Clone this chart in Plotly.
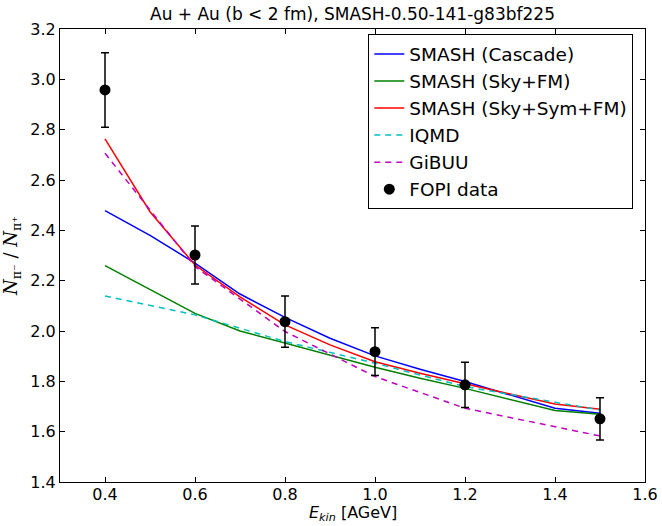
import plotly.graph_objects as go

# SMASH energies
e_smash = [0.4, 0.5, 0.6, 0.7, 0.8, 0.9, 1.0, 1.1, 1.2, 1.4, 1.5]
cascade = [2.478, 2.38, 2.270, 2.147, 2.054, 1.971, 1.901, 1.848, 1.799, 1.693, 1.673]
sky_fm = [2.260, 2.165, 2.070, 2.000, 1.951, 1.905, 1.856, 1.812, 1.772, 1.684, 1.669]
sky_sym_fm = [2.763, 2.474, 2.262, 2.136, 2.024, 1.945, 1.878, 1.832, 1.790, 1.710, 1.689]

# other models
e_models = [0.4, 0.6, 0.8, 1.0, 1.2, 1.5]
iqmd = [2.139, 2.064, 1.958, 1.872, 1.779, 1.686]
gibuu = [2.706, 2.256, 1.998, 1.819, 1.693, 1.583]

# FOPI data
e_fopi = [0.4, 0.6, 0.8, 1.0, 1.2, 1.5]
fopi = [2.958, 2.302, 2.037, 1.918, 1.786, 1.651]
fopi_err = [0.148, 0.115, 0.102, 0.095, 0.090, 0.084]

x_ticks = [0.4, 0.6, 0.8, 1.0, 1.2, 1.4, 1.6]
y_ticks = [1.4, 1.6, 1.8, 2.0, 2.2, 2.4, 2.6, 2.8, 3.0, 3.2]

FONT = "DejaVu Sans"
fig = go.Figure()

def line(x, y, name, color, dash="solid"):
    fig.add_trace(go.Scatter(x=x, y=y, mode="lines", name=name, legendgroup=name,
                             line=dict(color=color, width=1.5, dash=dash)))

line(e_smash, cascade, "SMASH (Cascade)", "#0000ff")
line(e_smash, sky_fm, "SMASH (Sky+FM)", "#008000")
line(e_smash, sky_sym_fm, "SMASH (Sky+Sym+FM)", "#ff0000")
line(e_models, iqmd, "IQMD", "#00bfbf", "6px,5px")
line(e_models, gibuu, "GiBUU", "#bf00bf", "6px,5px")

fig.add_trace(go.Scatter(
    x=e_fopi, y=fopi, mode="markers", name="FOPI data", legendgroup="FOPI data",
    marker=dict(color="black", size=11),
    error_y=dict(type="data", array=fopi_err, color="black", thickness=1.5, width=4)))

fig.update_layout(
    width=662, height=526,
    margin=dict(l=60, r=17, t=29, b=44, autoexpand=False),
    paper_bgcolor="white", plot_bgcolor="white",
    font=dict(family=FONT, size=16, color="black"),
    title=dict(text="Au + Au (b < 2 fm), SMASH-0.50-141-g83bf225",
               x=(60 + 645) / 2 / 662, xanchor="center", y=1 - 14 / 526, yanchor="middle",
               font=dict(family=FONT, size=17)),
    showlegend=True,
    legend=dict(x=0.98, xanchor="right", y=0.988, yanchor="top",
                bordercolor="black", borderwidth=1, bgcolor="white",
                font=dict(family=FONT, size=18.5), tracegroupgap=0),
)

axis_common = dict(showline=True, linecolor="black", linewidth=1.2, mirror="ticks",
                   ticks="inside", ticklen=5, tickcolor="black", tickwidth=1,
                   showgrid=False, zeroline=False, tickformat=".1f", automargin=False,
                   tickfont=dict(family=FONT, size=16))

fig.update_xaxes(range=[0.3, 1.6], tickvals=x_ticks, ticklabelstandoff=-2, **axis_common)
fig.update_yaxes(range=[1.4, 3.2], tickvals=y_ticks, **axis_common,
                 title=dict(text="<i>N</i><sub>π⁻</sub> / <i>N</i><sub>π⁺</sub>", standoff=8,
                            font=dict(family="DejaVu Serif", size=18)))

fig.add_annotation(text="<i>E</i><sub><i>kin</i></sub> [AGeV]", xref="paper", yref="paper",
                   x=0.5, y=-0.0706, xanchor="center", yanchor="middle", showarrow=False,
                   font=dict(family=FONT, size=16))

fig.write_html("out.html")
